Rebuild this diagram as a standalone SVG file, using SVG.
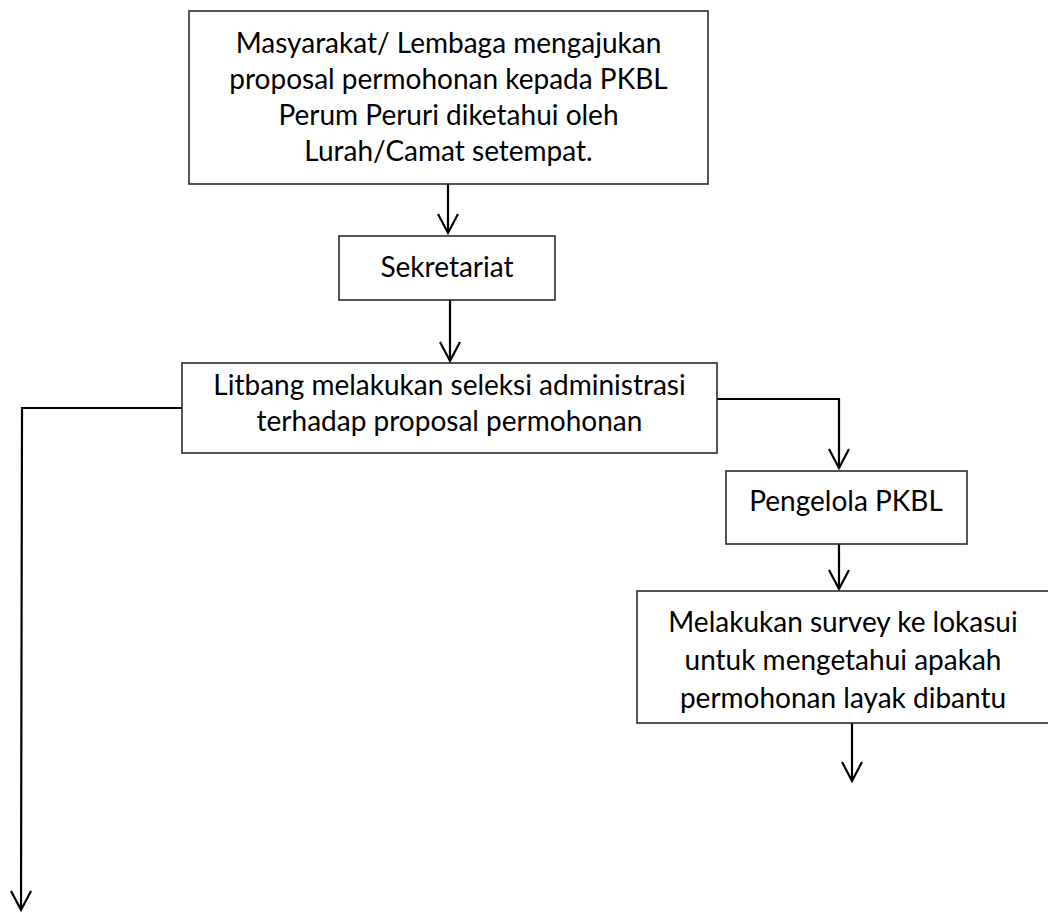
<svg xmlns="http://www.w3.org/2000/svg" width="1048" height="913" viewBox="0 0 1048 913">
<style>
  .box { fill: #ffffff; stroke: #2b2b2b; stroke-width: 1.6; }
  .lbl { font-family: Lato, "Open Sans", "Liberation Sans", sans-serif; font-size: 28px; fill: #000000; text-anchor: middle; }
  .conn { fill: none; stroke: #000000; stroke-width: 2.2; }
</style>
<defs>
  <marker id="arr" markerUnits="userSpaceOnUse" markerWidth="24" markerHeight="24" viewBox="-21 -12 24 24" refX="0" refY="0" orient="auto">
    <path d="M -19 -10 L 0 0 L -19 10" fill="none" stroke="#000000" stroke-width="2.2"/>
  </marker>
</defs>
<rect width="1048" height="913" fill="#ffffff"/>

<g id="connectors">
  <line class="conn" x1="448" y1="184" x2="448" y2="233" marker-end="url(#arr)"/>
  <line class="conn" x1="450" y1="300" x2="450" y2="361" marker-end="url(#arr)"/>
  <polyline class="conn" points="717,399 839,399 839,468" marker-end="url(#arr)"/>
  <polyline class="conn" points="182,408 22,408 21,910" marker-end="url(#arr)"/>
  <line class="conn" x1="839" y1="544" x2="839" y2="589" marker-end="url(#arr)"/>
  <line class="conn" x1="852" y1="723" x2="852" y2="781" marker-end="url(#arr)"/>
</g>

<g id="node-masyarakat">
  <rect class="box" x="189" y="11" width="519" height="173"/>
  <text class="lbl" x="448.5" y="53">Masyarakat/ Lembaga mengajukan</text>
  <text class="lbl" x="448.5" y="89">proposal permohonan kepada PKBL</text>
  <text class="lbl" x="448.5" y="125">Perum Peruri diketahui oleh</text>
  <text class="lbl" x="448.5" y="161">Lurah/Camat setempat.</text>
</g>

<g id="node-sekretariat">
  <rect class="box" x="339" y="236" width="216" height="64"/>
  <text class="lbl" x="447" y="277">Sekretariat</text>
</g>

<g id="node-litbang">
  <rect class="box" x="182" y="363" width="535" height="90"/>
  <text class="lbl" x="449.5" y="395">Litbang melakukan seleksi administrasi</text>
  <text class="lbl" x="449.5" y="431">terhadap proposal permohonan</text>
</g>

<g id="node-pengelola">
  <rect class="box" x="726" y="471" width="241" height="73"/>
  <text class="lbl" x="846" y="511">Pengelola PKBL</text>
</g>

<g id="node-survey">
  <rect class="box" x="637" y="591" width="430" height="132"/>
  <text class="lbl" x="843" y="632">Melakukan survey ke lokasui</text>
  <text class="lbl" x="843" y="670">untuk mengetahui apakah</text>
  <text class="lbl" x="843" y="708">permohonan layak dibantu</text>
</g>
</svg>
